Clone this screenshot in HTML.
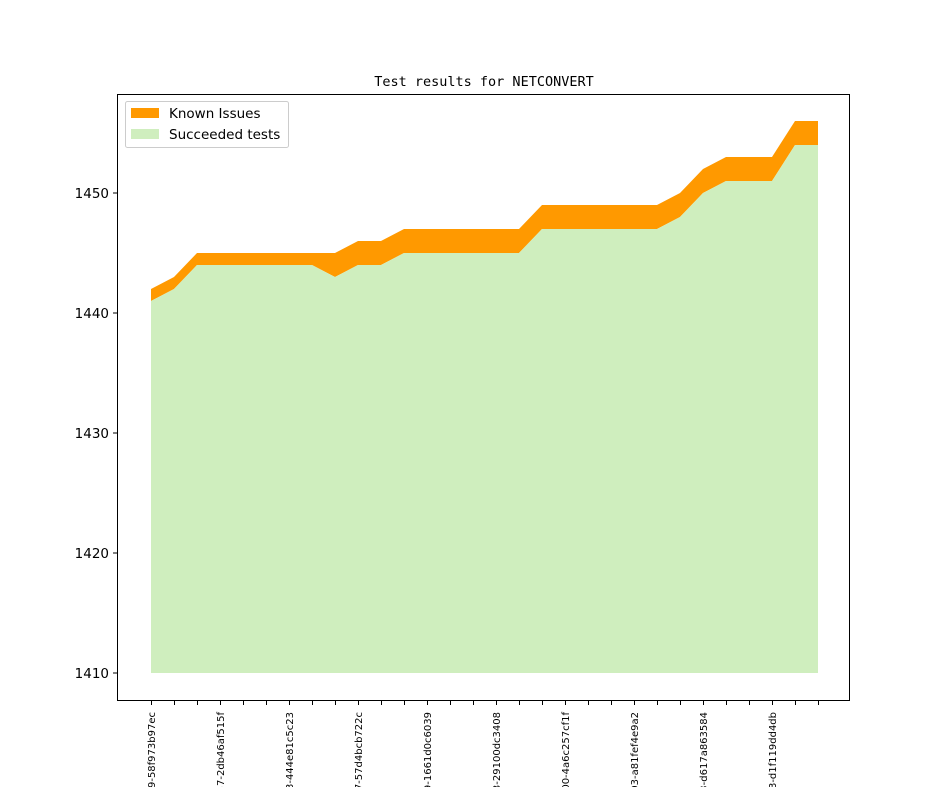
<!DOCTYPE html><html><head><style>html,body{margin:0;background:#fff;width:944px;height:787px;overflow:hidden}svg{display:block}</style></head><body>
<svg width="944" height="787" xmlns="http://www.w3.org/2000/svg" font-family="DejaVu Sans, Liberation Sans, sans-serif" overflow="hidden">
<rect width="944" height="787" fill="#fff"/>
<polygon fill="#ff9900" points="151,289 174,277 197,253 220,253 243,253 266,253 289,253 312,253 335,253 358,241 381,241 404,229 427,229 450,229 473,229 496,229 519,229 542,205 565,205 588,205 611,205 634,205 657,205 680,193 703,169 726,157 749,157 772,157 795,121 818,121 818,145 795,145 772,181 749,181 726,181 703,193 680,217 657,229 634,229 611,229 588,229 565,229 542,229 519,253 496,253 473,253 450,253 427,253 404,253 381,265 358,265 335,277 312,265 289,265 266,265 243,265 220,265 197,265 174,289 151,301"/>
<polygon fill="#cfeebe" points="151,301 174,289 197,265 220,265 243,265 266,265 289,265 312,265 335,277 358,265 381,265 404,253 427,253 450,253 473,253 496,253 519,253 542,229 565,229 588,229 611,229 634,229 657,229 680,217 703,193 726,181 749,181 772,181 795,145 818,145 818,673 151,673"/>
<rect x="117.5" y="94.5" width="732" height="606" fill="none" stroke="#000" stroke-width="1"/>
<g stroke="#000">
<line x1="113" y1="673" x2="117" y2="673"/><line x1="113" y1="553" x2="117" y2="553"/><line x1="113" y1="433" x2="117" y2="433"/><line x1="113" y1="313" x2="117" y2="313"/><line x1="113" y1="193" x2="117" y2="193"/>
</g>
<g font-size="13.5" text-anchor="end"><text x="109" y="678">1410</text><text x="109" y="558">1420</text><text x="109" y="438">1430</text><text x="109" y="318">1440</text><text x="109" y="198">1450</text></g>
<g stroke="#000" id="t"></g>
<script>
var g=document.getElementById('t');for(var i=0;i<30;i++){var x=151+23*i+0.5;var l=document.createElementNS('http://www.w3.org/2000/svg','line');l.setAttribute('x1',x);l.setAttribute('x2',x);l.setAttribute('y1',701);l.setAttribute('y2',705);g.appendChild(l);}
</script>
<g font-size="10" text-anchor="end">
<text transform="translate(155,712) rotate(-90)">v1_0_1+0519-58f973b97ec</text>
<text transform="translate(224,712) rotate(-90)">v1_0_1+0537-2db46af515f</text>
<text transform="translate(293,712) rotate(-90)">v1_0_1+0553-444e81c5c23</text>
<text transform="translate(362,712) rotate(-90)">v1_0_1+0567-57d4bcb722c</text>
<text transform="translate(431,712) rotate(-90)">v1_0_1+0579-1661d0c6039</text>
<text transform="translate(500,712) rotate(-90)">v1_0_1+0593-29100dc3408</text>
<text transform="translate(569,712) rotate(-90)">v1_0_1+0600-4a6c257cf1f</text>
<text transform="translate(638,712) rotate(-90)">v1_0_1+0603-a81fef4e9a2</text>
<text transform="translate(707,712) rotate(-90)">v1_0_1+0613-d617a863584</text>
<text transform="translate(776,712) rotate(-90)">v1_0_1+0623-d1f119dd4db</text>
</g>
<text x="484" y="86" font-size="13.5" text-anchor="middle" font-family="DejaVu Sans Mono, Liberation Mono, monospace">Test results for NETCONVERT</text>
<rect x="125.5" y="101.5" width="163" height="46" fill="#fff" stroke="#ccc" rx="2"/>
<rect x="131" y="108" width="28" height="10" fill="#ff9900"/>
<rect x="131" y="129" width="28" height="10" fill="#cfeebe"/>
<g font-size="13.5"><text x="169" y="118">Known Issues</text><text x="169" y="139">Succeeded tests</text></g>
</svg></body></html>
